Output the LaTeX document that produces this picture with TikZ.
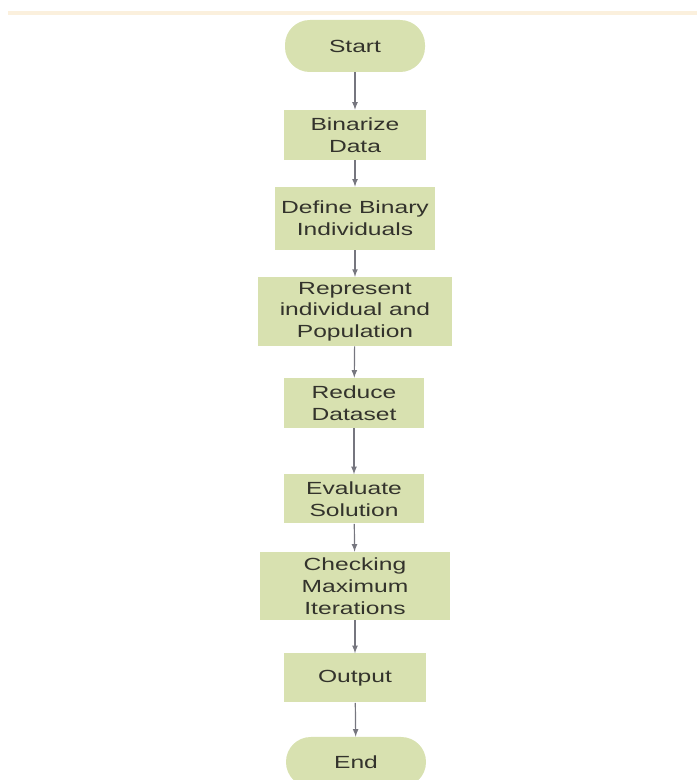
\documentclass[tikz,border=0pt]{standalone}
\usepackage{fontspec}
\setmainfont{Liberation Sans}[FakeStretch=1.4]
\definecolor{boxfill}{HTML}{D8E1B0}
\definecolor{arrowgray}{HTML}{76767F}
\definecolor{textgray}{HTML}{33332C}
\definecolor{topline}{HTML}{FBF0DD}
\begin{document}
\begin{tikzpicture}[
    box/.style={fill=boxfill, text=textgray, align=center, inner sep=2pt,
        font=\fontsize{12.5}{15.5}\selectfont},
    term/.style={box, rounded corners=0.62cm},
    flow/.style={draw=arrowgray, line width=0.85pt, ->, >=latex}
]
        \useasboundingbox (0,0) rectangle (17.425,19.5);
        \fill[topline] (0.2,19.125) rectangle (17.425,19.225);

        \node[term, minimum width=3.5cm, minimum height=1.3cm] (start) at (8.875,18.35) {Start};
        \node[box, minimum width=3.55cm, minimum height=1.25cm] (binarize) at (8.875,16.125) {Binarize\\Data};
        \node[box, minimum width=4cm, minimum height=1.575cm] (define) at (8.875,14.04) {Define Binary\\Individuals};
        \node[box, minimum width=4.85cm, minimum height=1.725cm] (represent) at (8.875,11.71) {Represent\\individual and\\Population};
        \node[box, minimum width=3.5cm, minimum height=1.25cm] (reduce) at (8.85,9.425) {Reduce\\Dataset};
        \node[box, minimum width=3.5cm, minimum height=1.225cm] (evaluate) at (8.85,7.025) {Evaluate\\Solution};
        \node[box, minimum width=4.75cm, minimum height=1.7cm] (checking) at (8.875,4.85) {Checking\\Maximum\\Iterations};
        \node[box, minimum width=3.55cm, minimum height=1.225cm] (output) at (8.875,2.55) {Output};
        \node[term, minimum width=3.5cm, minimum height=1.25cm] (end) at (8.9,0.45) {End};

        \path[flow] (start) -- (binarize);
        \path[flow] (binarize) -- (define);
        \path[flow] (define) -- (represent);
        \path[flow] (represent) -- (reduce);
        \path[flow] (reduce) -- (evaluate);
        \path[flow] (evaluate) -- (checking);
        \path[flow] (checking) -- (output);
        \path[flow] (output) -- (end);
    \end{tikzpicture}
\end{document}
